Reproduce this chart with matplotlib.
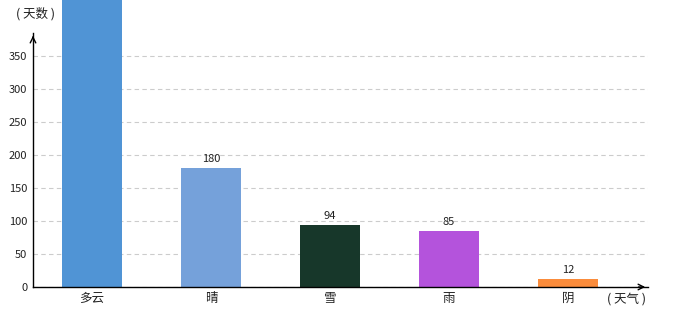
import matplotlib
matplotlib.use("Agg")
import matplotlib.pyplot as plt

plt.rcParams['font.family'] = ['Noto Sans CJK SC', 'DejaVu Sans']

categories = ['多云', '晴', '雪', '雨', '阴']
values = [440, 180, 94, 85, 12]
show_label = [False, True, True, True, True]
colors = ['#5094d5', '#75a1da', '#17372a', '#b453dc', '#fa8c3c']
yticks = [0, 50, 100, 150, 200, 250, 300, 350]

fig = plt.figure(figsize=(6.8, 3.2), dpi=100)
ax = fig.add_axes([33/680, 33/320, 615/680, 254/320])

x = list(range(len(categories)))
bars = ax.bar(x, values, width=0.5, color=colors, zorder=3, clip_on=False)
for b, v, s in zip(bars, values, show_label):
    if s:
        ax.annotate(str(v), (b.get_x() + b.get_width()/2, v), xytext=(0, 3),
                    textcoords='offset points', ha='center', va='bottom',
                    fontsize=8, color='#222222')

ax.set_xlim(-0.496, 4.672)
ax.set_ylim(0, 385)
ax.set_yticks(yticks)
ax.set_xticks(x)
ax.set_xticklabels(categories, fontsize=9, color='#222222')
ax.tick_params(axis='y', length=0, pad=4, labelsize=8, labelcolor='#222222')
ax.tick_params(axis='x', length=0, pad=3.5)
ax.yaxis.grid(True, linestyle=(0, (4, 3)), color='#cccccc', linewidth=0.8, zorder=0)
for s in ['top', 'right']:
    ax.spines[s].set_visible(False)
for s in ['left', 'bottom']:
    ax.spines[s].set_color('black')
    ax.spines[s].set_linewidth(1)
    ax.spines[s].set_zorder(4)

# arrows
ax.annotate('', xy=(0, 1.0), xytext=(0, 0.97), xycoords='axes fraction',
            arrowprops=dict(arrowstyle='->', color='black', lw=1, mutation_scale=10))
ax.annotate('', xy=(1.0, 0), xytext=(0.98, 0), xycoords='axes fraction',
            arrowprops=dict(arrowstyle='->', color='black', lw=1, mutation_scale=10))

fig.text(16/680, 1 - 14/320, '( 天数 )', fontsize=9, color='#222222', va='center', ha='left')
fig.text(646/680, 1 - 299/320, '( 天气 )', fontsize=9, color='#222222', va='center', ha='right')

fig.savefig('out.png', dpi=100)
